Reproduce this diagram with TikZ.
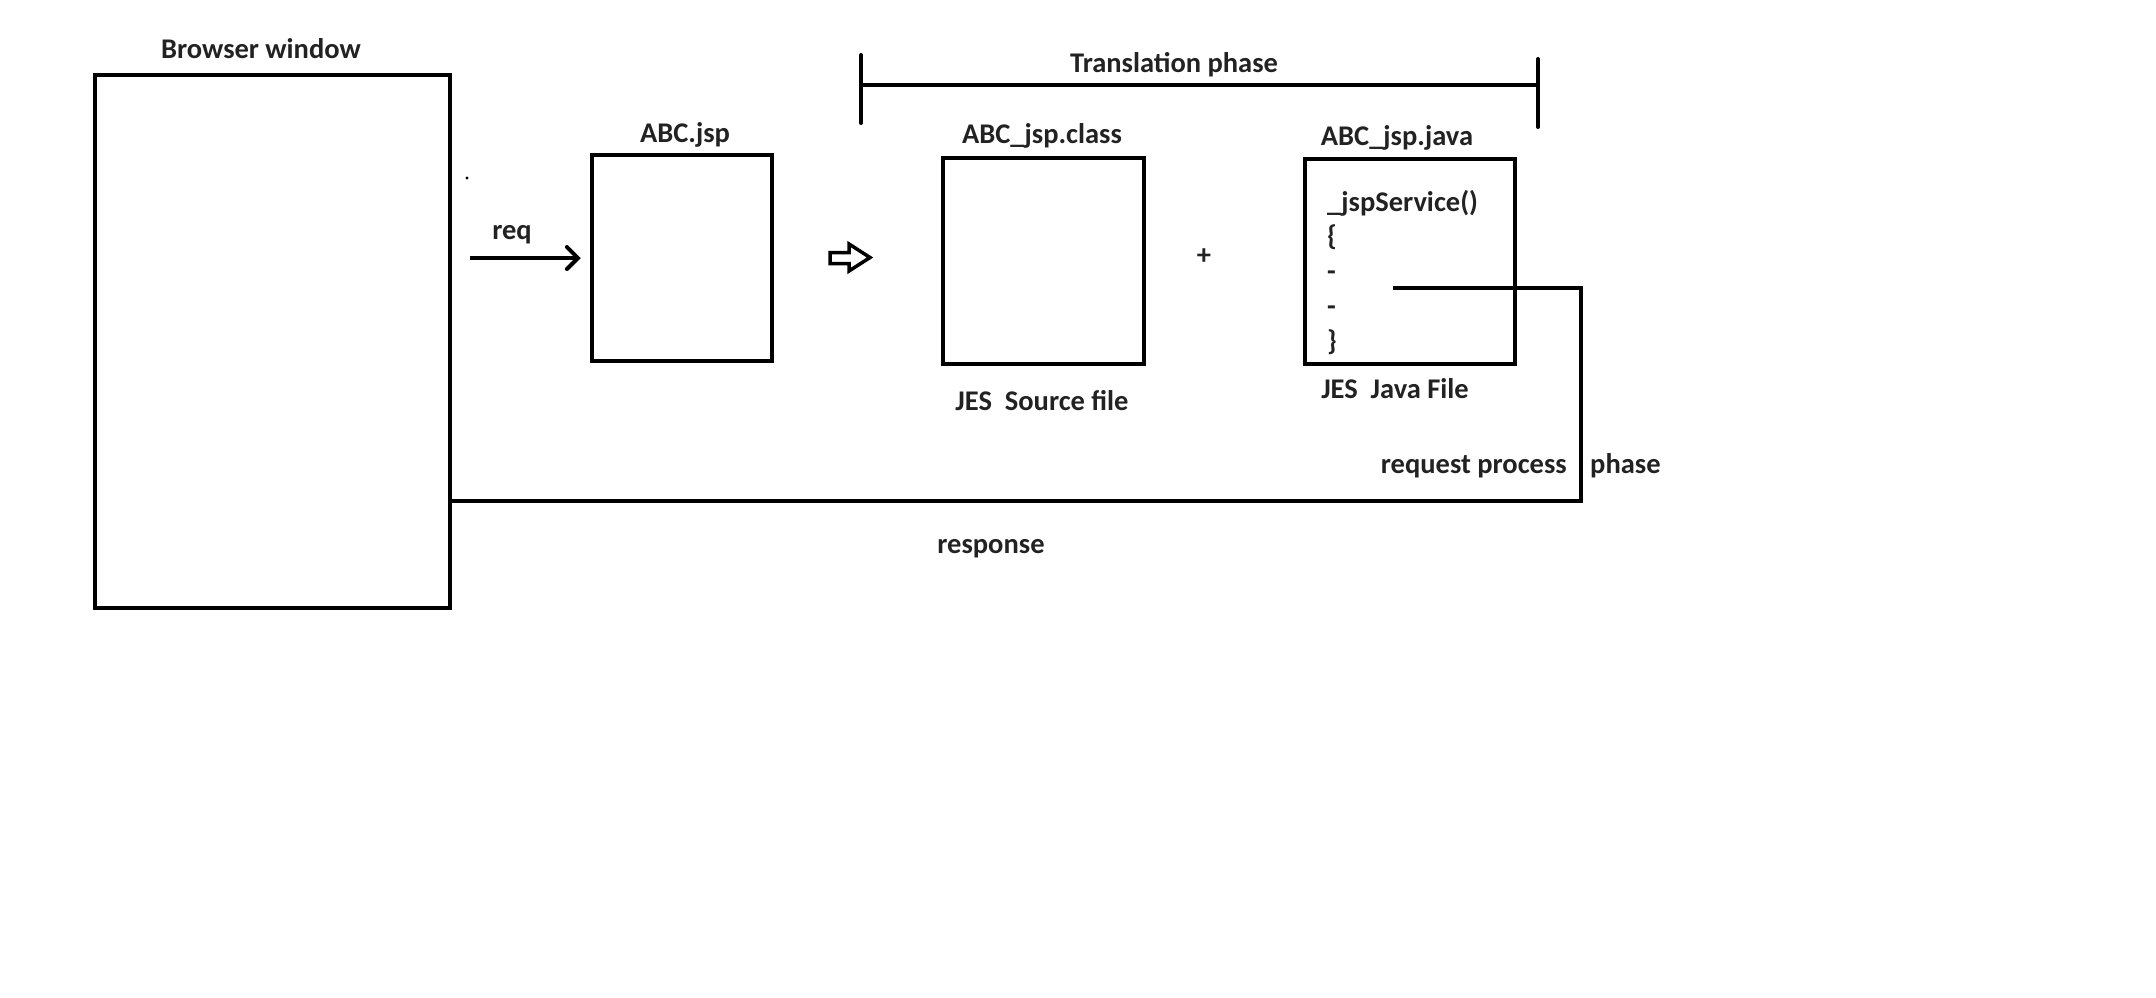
\documentclass[tikz,border=0pt]{standalone}
\usepackage{fontspec}
\setmainfont{Carlito}
\usepackage{xcolor}
\usepackage{tikz}
\usetikzlibrary{arrows.meta, positioning, calc}
\definecolor{mydark}{RGB}{34,34,34}
\definecolor{myline}{RGB}{0,0,0}
\tikzset{
  filebox/.style={rectangle, draw=myline, line width=4.5pt, inner sep=0pt},
  lbl/.style={font=\fontsize{28.5}{34}\selectfont\bfseries, text=mydark, inner sep=0pt},
  arrow/.style={-{Straight Barb[length=11pt,width=22pt,line cap=round]}, line width=4pt, color=myline},
  line/.style={line width=4pt, color=myline, line cap=round}
}

\begin{document}
\begin{tikzpicture}[x=1pt, y=-1pt]
  \useasboundingbox (0,0) rectangle (2156,997);

  % boxes
  \node[filebox, minimum width=355pt, minimum height=533pt] (browser) at (272.5,341.5) {};
  \node[filebox, minimum width=180pt, minimum height=206pt] (jsp) at (682,258) {};
  \node[filebox, minimum width=201pt, minimum height=206pt] (cls) at (1043.5,261) {};
  \node[filebox, minimum width=210pt, minimum height=205pt] (java) at (1410,261.5) {};

  % titles
  \node[lbl, anchor=base] (browsertxt) at (261,58) {Browser window};
  \node[lbl, anchor=base] (jsptxt) at (685,142) {ABC.jsp};
  \node[lbl, anchor=base] (clstxt) at (1042,143) {ABC\_jsp.class};
  \node[lbl, anchor=base] (javatxt) at (1397,145) {ABC\_jsp.java};
  \node[lbl, anchor=base] (srctxt) at (1042,410) {JES\ \ Source file};
  \node[lbl, anchor=base] (jfiletxt) at (1395,398) {JES\ \ Java File};
  \node[lbl] (plus) at (1204,257) {+};

  % method body
  \foreach \t [count=\i] in {\_jspService(), \{, -, -, \}}
    \node[lbl, anchor=base west] (code\i) at (1327,{211+34.75*(\i-1)}) {\t};

  % request
  \fill[myline] (467,178) circle (1.6pt);
  \draw[arrow] ([xshift=18pt]browser.east |- jsp.west) -- ([xshift=-9pt]jsp.west);
  \node[lbl, anchor=base] (reqtxt) at (512,239) {req};

  % translate arrow
  \draw[myline, line width=3.5pt, line join=miter]
    (830,252.5) -- (849,252.5) -- (849,244) -- (870,257.5) -- (849,271) -- (849,263.5) -- (830,263.5) -- cycle;

  % translation phase
  \coordinate (trl) at (861,85);
  \coordinate (trr) at (1538,85);
  \draw[line] (trl) -- (trr);
  \draw[line] ([yshift=30pt]trl) -- ([yshift=-38pt]trl);
  \draw[line] ([yshift=26pt]trr) -- ([yshift=-42pt]trr);
  \node[lbl, anchor=base] (trtxt) at (1174,72) {Translation phase};

  % response path
  \coordinate (svc) at (1393,288);
  \coordinate (turn) at (1581,501);
  \draw[line, line cap=butt] (svc) -| (turn) -- (turn -| browser.east);
  \node[lbl, anchor=base east] (rptxt) at (1567,473) {request process};
  \node[lbl, anchor=base west] (phasetxt) at (1590,473) {phase};
  \node[lbl, anchor=base] (resptxt) at (991,553) {response};
\end{tikzpicture}
\end{document}
